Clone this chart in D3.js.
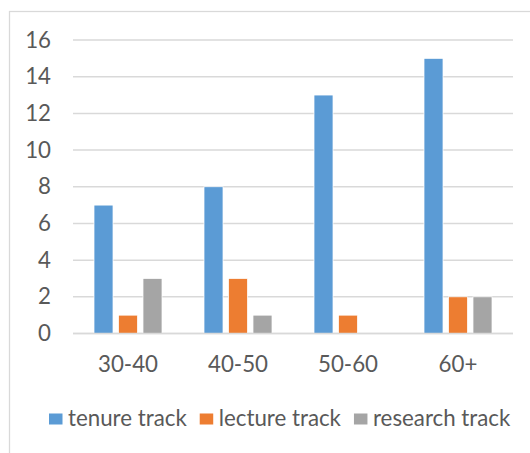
<!DOCTYPE html>
<html>
<head>
<meta charset="utf-8">
<script src="https://cdn.jsdelivr.net/npm/d3@7"></script>
<style>
  html, body { margin: 0; padding: 0; background: #fff; }
  svg { display: block; font-family: Lato, "Open Sans", sans-serif; }
</style>
</head>
<body>
<svg id="chart" width="530" height="453"></svg>
<script>
// Age groups on the x axis
const categories = ["30-40", "40-50", "50-60", "60+"];
// Series names and their counts per age group
const seriesNames = ["tenure track", "lecture track", "research track"];
const tenureTrack = [7, 8, 13, 15];
const lectureTrack = [1, 3, 1, 2];
const researchTrack = [3, 1, 0, 2];
const yTicks = [0, 2, 4, 6, 8, 10, 12, 14, 16];

const seriesValues = [tenureTrack, lectureTrack, researchTrack];
const colors = ["#5b9bd5", "#ed7d31", "#a5a5a5"];

const svg = d3.select("#chart");
const textColor = "#595959";
const fontSize = 22.3;

// chart area frame
svg.append("rect")
  .attr("x", 9.5).attr("y", 11.5)
  .attr("width", 560).attr("height", 480)
  .attr("fill", "#fff")
  .attr("stroke", "#d9d9d9")
  .attr("stroke-width", 1.25);

const plot = { left: 73, right: 513, top: 40, bottom: 333.5 };

const y = d3.scaleLinear().domain([0, 16]).range([plot.bottom, plot.top]);
const x0 = d3.scaleBand().domain(categories).range([plot.left, plot.right]).padding(0);
const x1 = d3.scaleBand().domain(seriesNames)
  .range([21, x0.bandwidth() - 21])
  .paddingInner(0.224).paddingOuter(0);

// horizontal gridlines
svg.append("g").selectAll("line")
  .data(yTicks)
  .join("line")
  .attr("x1", plot.left).attr("x2", plot.right)
  .attr("y1", d => y(d)).attr("y2", d => y(d))
  .attr("stroke", "#d9d9d9")
  .attr("stroke-width", 1.5);

// y axis labels
const yAxis = d3.axisLeft(y).tickValues(yTicks).tickSize(0).tickPadding(0).tickFormat(d3.format("d"));
svg.append("g")
  .attr("transform", `translate(51,0)`)
  .call(yAxis)
  .call(g => g.select(".domain").remove())
  .call(g => g.selectAll("text")
    .attr("fill", textColor)
    .attr("font-size", fontSize)
    .attr("font-family", "Lato, 'Open Sans', sans-serif"));

// bars
const groups = svg.append("g").selectAll("g")
  .data(categories)
  .join("g")
  .attr("transform", d => `translate(${x0(d)},0)`);

groups.selectAll("rect")
  .data((c, i) => seriesNames.map((s, k) => ({ s, v: seriesValues[k][i], k })).filter(d => d.v > 0))
  .join("rect")
  .attr("x", d => x1(d.s))
  .attr("width", x1.bandwidth())
  .attr("y", d => y(d.v))
  .attr("height", d => y(0) - y(d.v))
  .attr("fill", d => colors[d.k])
  .attr("stroke", "#fff")
  .attr("stroke-width", 0.75);

// baseline redrawn over bars
svg.append("line")
  .attr("x1", plot.left).attr("x2", plot.right)
  .attr("y1", y(0)).attr("y2", y(0))
  .attr("stroke", "#d9d9d9")
  .attr("stroke-width", 1.5);

// x axis labels
const xAxis = d3.axisBottom(x0).tickSize(0).tickPadding(0);
svg.append("g")
  .attr("transform", `translate(0,${plot.bottom})`)
  .call(xAxis)
  .call(g => g.select(".domain").remove())
  .call(g => g.selectAll("text")
    .attr("dy", null)
    .attr("y", 38.5)
    .attr("fill", textColor)
    .attr("font-size", fontSize)
    .attr("font-family", "Lato, 'Open Sans', sans-serif"));

// legend
const legend = svg.append("g");
let lx = 49;
seriesNames.forEach((name, k) => {
  legend.append("rect")
    .attr("x", lx).attr("y", 413.5)
    .attr("width", 13.5).attr("height", 11)
    .attr("fill", colors[k]);
  const t = legend.append("text")
    .attr("x", lx + 19).attr("y", 425.5)
    .attr("fill", textColor)
    .attr("font-size", fontSize)
    .text(name);
  lx += 19 + t.node().getComputedTextLength() + 13;
});
</script>
</body>
</html>
